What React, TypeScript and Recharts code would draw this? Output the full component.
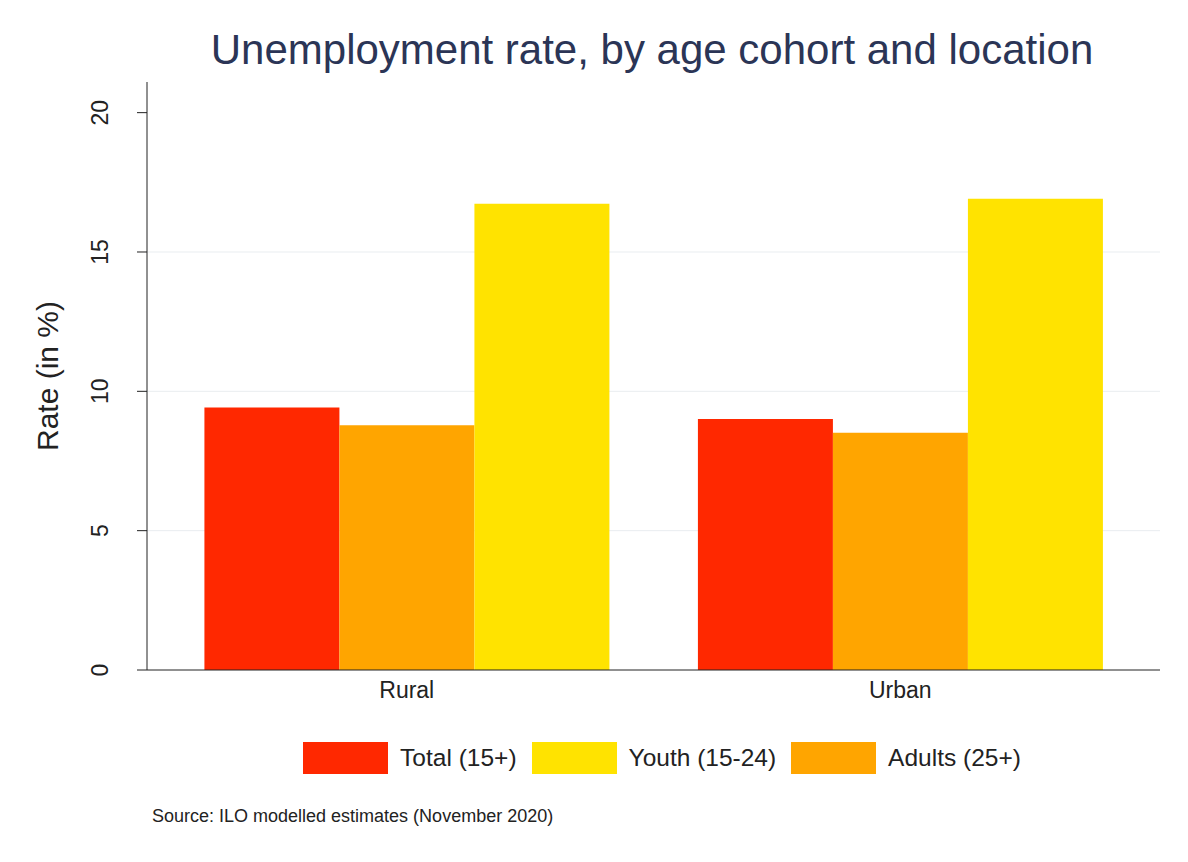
import React from 'react';
import { BarChart, Bar, XAxis, YAxis, CartesianGrid, Legend, Label } from 'recharts';

const locations = ['Rural', 'Urban'];
const totalRates = [9.42, 9.01];
const adultRates = [8.78, 8.51];
const youthRates = [16.73, 16.91];
const yTicks = [0, 5, 10, 15, 20];

const SERIES = [
  { key: 'total', name: 'Total (15+)', color: '#ff2800' },
  { key: 'adults', name: 'Adults (25+)', color: '#ffa500' },
  { key: 'youth', name: 'Youth (15-24)', color: '#ffe300' },
];

// legend order differs from bar order
const LEGEND_ORDER = ['total', 'youth', 'adults'];

const data = locations.map((loc, i) => ({
  location: loc,
  total: totalRates[i],
  adults: adultRates[i],
  youth: youthRates[i],
}));

const FONT = '"Liberation Sans", Arial, sans-serif';

const YTick = (props: any) => {
  const { x, y, payload } = props;
  return (
    <text
      x={x - 27}
      y={y}
      transform={`rotate(-90, ${x - 27}, ${y})`}
      textAnchor="middle"
      fontSize={23}
      fill="#222"
      fontFamily={FONT}
    >
      {payload.value}
    </text>
  );
};

const LegendContent = () => (
  <div style={{ display: 'flex', justifyContent: 'center', fontFamily: FONT, fontSize: 24.5, color: '#222' }}>
    {LEGEND_ORDER.map((k) => {
      const s = SERIES.find((x) => x.key === k)!;
      return (
        <div key={k} style={{ display: 'flex', alignItems: 'center', margin: '0 7.5px' }}>
          <div style={{ width: 85, height: 32, background: s.color, marginRight: 12 }} />
          <span>{s.name}</span>
        </div>
      );
    })}
  </div>
);

const App: React.FC = () => {
  return (
    <div style={{ margin: -8, width: 1188, height: 862, background: '#fff', position: 'relative', fontFamily: FONT }}>
      <div
        style={{
          position: 'absolute',
          top: 26,
          left: 0,
          width: 1188,
          paddingLeft: 116,
          boxSizing: 'border-box',
          textAlign: 'center',
          fontSize: 42,
          color: '#2b3556',
          lineHeight: '48px',
        }}
      >
        Unemployment rate, by age cohort and location
      </div>
      <BarChart
        width={1188}
        height={862}
        data={data}
        margin={{ top: 82, right: 28, bottom: 120, left: 0 }}
        barCategoryGap="9%"
        barGap={0}
      >
        <CartesianGrid vertical={false} stroke="#e9edf0" horizontalValues={[5, 10, 15]} />
        <XAxis
          dataKey="location"
          padding={{ left: 13, right: 13 }}
          tickLine={false}
          tickSize={0}
          tickMargin={12}
          height={40}
          stroke="#222"
          tick={{ fontSize: 23, fill: '#222', fontFamily: FONT }}
        />
        <YAxis
          width={147}
          domain={[0, 21.1]}
          ticks={yTicks}
          tickSize={10}
          stroke="#222"
          tick={<YTick />}
          interval={0}
        >
          <Label
            content={(props: any) => {
              const vb = props.viewBox;
              const cy = vb.y + vb.height / 2;
              return (
                <text
                  x={58}
                  y={cy}
                  transform={`rotate(-90, 58, ${cy})`}
                  textAnchor="middle"
                  fontSize={30}
                  fill="#222"
                  fontFamily={FONT}
                >
                  Rate (in %)
                </text>
              );
            }}
          />
        </YAxis>
        {SERIES.map((s) => (
          <Bar key={s.key} dataKey={s.key} name={s.name} fill={s.color} isAnimationActive={false} />
        ))}
        <Legend
          content={<LegendContent />}
          verticalAlign="bottom"
          wrapperStyle={{ left: 107, width: 1110, bottom: 88 }}
        />
      </BarChart>
      <div style={{ position: 'absolute', left: 152, top: 806, fontSize: 18, color: '#222' }}>
        Source: ILO modelled estimates (November 2020)
      </div>
    </div>
  );
};

export default App;
